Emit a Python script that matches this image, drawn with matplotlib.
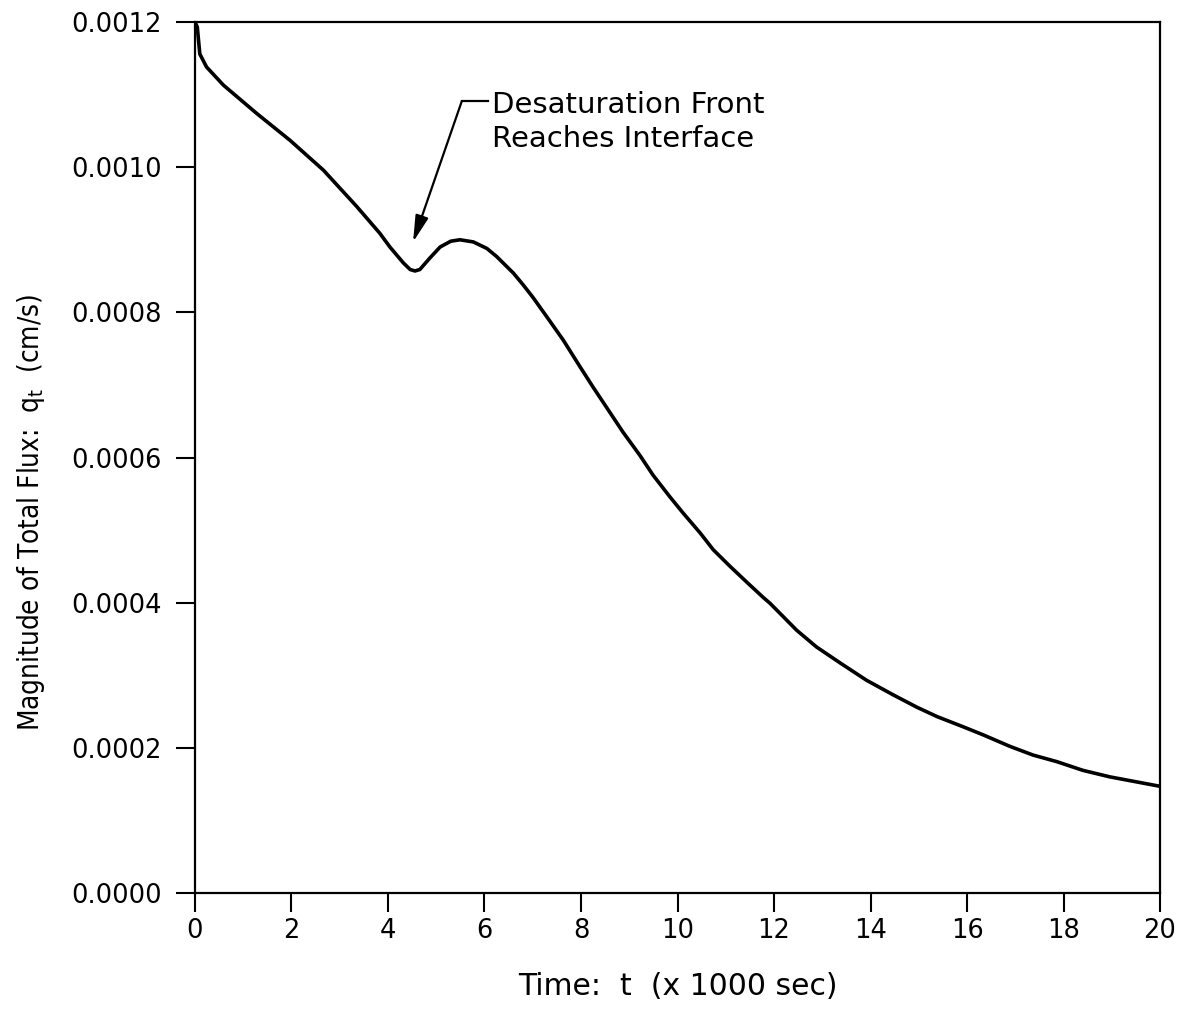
import matplotlib
matplotlib.use("Agg")
import matplotlib.pyplot as plt

# time (x 1000 sec) and magnitude of total flux (cm/s)
t = [0.0, 0.048, 0.10, 0.24, 0.59, 1.28, 1.97, 2.66, 3.35, 3.83, 4.04, 4.32,
     4.46, 4.56, 4.66, 4.87, 5.08, 5.30, 5.49, 5.77, 6.05, 6.25, 6.60, 6.80,
     7.00, 7.29, 7.63, 7.98, 8.25, 8.60, 8.87, 9.22, 9.49, 9.84, 10.11,
     10.47, 10.74, 11.09, 11.44, 11.78, 11.92, 12.47, 12.88, 13.37, 13.92,
     14.47, 14.96, 15.38, 15.92, 16.33, 16.89, 17.37, 17.86, 18.40, 18.96,
     20.0]
q = [0.00120, 0.001193, 0.001156, 0.001138, 0.001113, 0.001074, 0.001037,
     0.000996, 0.000946, 0.000909, 0.000890, 0.000868, 0.000859, 0.000857,
     0.000859, 0.000875, 0.000890, 0.000898, 0.000900, 0.000897, 0.000888,
     0.000877, 0.000854, 0.000838, 0.000821, 0.000794, 0.000762, 0.000725,
     0.000697, 0.000662, 0.000635, 0.000603, 0.000576, 0.000546, 0.000524,
     0.000496, 0.000473, 0.000450, 0.000428, 0.000407, 0.000399, 0.000362,
     0.000339, 0.000317, 0.000293, 0.000273, 0.000256, 0.000243, 0.000229,
     0.000218, 0.000202, 0.000190, 0.000181, 0.000169, 0.000160, 0.000147]

x_ticks = [0, 2, 4, 6, 8, 10, 12, 14, 16, 18, 20]
y_ticks = [0.0, 0.0002, 0.0004, 0.0006, 0.0008, 0.0010, 0.0012]

note_lines = ["Desaturation Front", "Reaches Interface"]
note_baselines = [0.0010746, 0.0010278]
note_tip = (4.52, 0.000897)
note_knee = (5.53, 0.001091)
note_text_x = 6.15

plt.rcParams['font.family'] = 'DejaVu Sans'

fig = plt.figure(figsize=(11.86, 10.15), dpi=100)
ax = fig.add_axes([0.1644, 0.1202, 0.8137, 0.8581])

ax.plot(t, q, color='black', linewidth=2.6, solid_joinstyle='round')

ax.set_xlim(0, 20)
ax.set_ylim(0, 0.0012)
ax.set_xticks(x_ticks)
ax.set_yticks(y_ticks)
ax.set_xticklabels([str(v) for v in x_ticks])
ax.set_yticklabels(["%.4f" % v for v in y_ticks])

for s in ax.spines.values():
    s.set_linewidth(1.6)
ax.tick_params(direction='out', length=14, width=1.5, labelsize=18.5,
               top=False, right=False)
ax.tick_params(axis='x', pad=4)
ax.tick_params(axis='y', pad=10)

ax.set_xlabel("Time:  t  (x 1000 sec)", fontsize=21.5, labelpad=20)
ax.set_ylabel(r"Magnitude of Total Flux:  q$_\mathregular{t}$  (cm/s)",
              fontsize=20, fontstretch='condensed')
ax.yaxis.set_label_coords(-0.153, 0.437)

# annotation: leader line, arrow and text
ax.plot([note_knee[0], note_text_x - 0.08], [note_knee[1], note_knee[1]],
        color='black', linewidth=1.6)
ax.annotate('', xy=note_tip, xytext=note_knee,
            arrowprops=dict(arrowstyle='-|>,head_length=0.8,head_width=0.2',
                            color='black', linewidth=1.6, mutation_scale=20,
                            shrinkA=0, shrinkB=0))
for line, yb in zip(note_lines, note_baselines):
    ax.text(note_text_x, yb, line, fontsize=21, va='baseline', ha='left')

fig.savefig("out.png", dpi=100)
